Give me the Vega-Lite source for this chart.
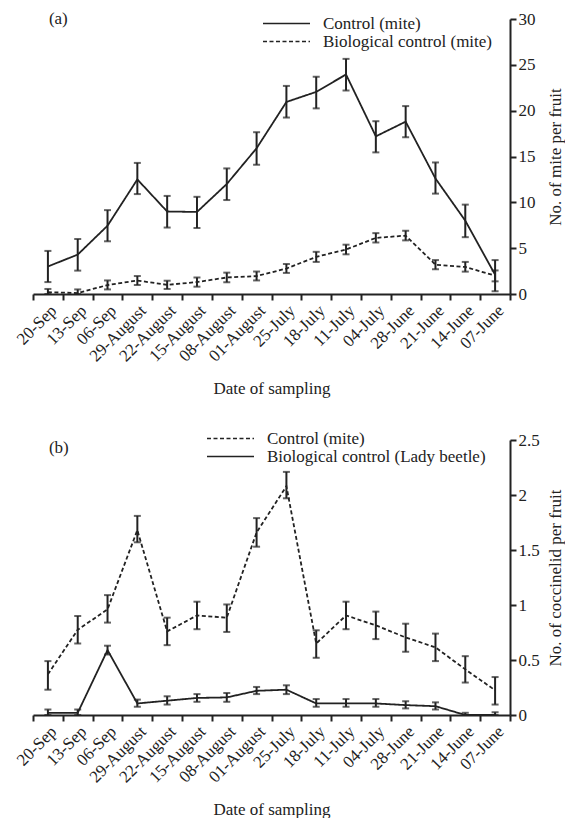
{
  "$schema": "https://vega.github.io/schema/vega-lite/v6.json",
  "background": "white",
  "padding": {"left": 13, "top": 10, "right": 1, "bottom": 0},
  "config": {
    "font": "Liberation Serif",
    "view": {"stroke": null},
    "axis": {
      "labelFont": "Liberation Serif", "titleFont": "Liberation Serif",
      "labelFontSize": 17, "titleFontSize": 17, "titleFontWeight": "normal",
      "labelColor": "#222", "titleColor": "#222",
      "domainColor": "#222", "tickColor": "#222",
      "domainWidth": 2, "tickWidth": 2, "tickSize": 6, "grid": false
    },
    "legend": {
      "labelFont": "Liberation Serif", "labelFontSize": 17, "labelColor": "#222", "labelLimit": 0,
      "symbolType": "M-4.7,0H4.7", "symbolSize": 100, "symbolStrokeWidth": 1.6,
      "symbolStrokeColor": "#222", "labelOffset": 28, "rowPadding": 0, "padding": 0
    }
  },
  "spacing": 33,
  "resolve": {
    "scale": {"x": "independent", "y": "independent", "strokeDash": "independent"},
    "legend": {"strokeDash": "independent"}
  },
  "vconcat": [
    {
      "width": 477,
      "height": 275,
      "data": {"values": [
        {"date": "20-Sep", "series": "Control (mite)", "v": 3.0, "lo": 1.3, "hi": 4.7},
        {"date": "13-Sep", "series": "Control (mite)", "v": 4.3, "lo": 2.55, "hi": 6.0},
        {"date": "06-Sep", "series": "Control (mite)", "v": 7.45, "lo": 5.75, "hi": 9.15},
        {"date": "29-August", "series": "Control (mite)", "v": 12.5, "lo": 10.9, "hi": 14.3},
        {"date": "22-August", "series": "Control (mite)", "v": 9.0, "lo": 7.25, "hi": 10.7},
        {"date": "15-August", "series": "Control (mite)", "v": 8.95, "lo": 7.2, "hi": 10.6},
        {"date": "08-August", "series": "Control (mite)", "v": 12.0, "lo": 10.25, "hi": 13.7},
        {"date": "01-August", "series": "Control (mite)", "v": 15.9, "lo": 14.1, "hi": 17.65},
        {"date": "25-July", "series": "Control (mite)", "v": 20.95, "lo": 19.25, "hi": 22.7},
        {"date": "18-July", "series": "Control (mite)", "v": 22.05, "lo": 20.25, "hi": 23.7},
        {"date": "11-July", "series": "Control (mite)", "v": 23.95, "lo": 22.2, "hi": 25.65},
        {"date": "04-July", "series": "Control (mite)", "v": 17.2, "lo": 15.45, "hi": 18.85},
        {"date": "28-June", "series": "Control (mite)", "v": 18.8, "lo": 17.1, "hi": 20.5},
        {"date": "21-June", "series": "Control (mite)", "v": 12.6, "lo": 10.95, "hi": 14.35},
        {"date": "14-June", "series": "Control (mite)", "v": 8.0, "lo": 6.2, "hi": 9.75},
        {"date": "07-June", "series": "Control (mite)", "v": 2.1, "lo": 0.3, "hi": 3.7},
        {"date": "20-Sep", "series": "Biological control (mite)", "v": 0.2, "lo": 0.0, "hi": 0.55},
        {"date": "13-Sep", "series": "Biological control (mite)", "v": 0.1, "lo": 0.0, "hi": 0.5},
        {"date": "06-Sep", "series": "Biological control (mite)", "v": 0.98, "lo": 0.5, "hi": 1.48},
        {"date": "29-August", "series": "Biological control (mite)", "v": 1.47, "lo": 0.98, "hi": 1.96},
        {"date": "22-August", "series": "Biological control (mite)", "v": 1.0, "lo": 0.55, "hi": 1.45},
        {"date": "15-August", "series": "Biological control (mite)", "v": 1.3, "lo": 0.8, "hi": 1.8},
        {"date": "08-August", "series": "Biological control (mite)", "v": 1.8, "lo": 1.28, "hi": 2.33},
        {"date": "01-August", "series": "Biological control (mite)", "v": 1.95, "lo": 1.48, "hi": 2.45},
        {"date": "25-July", "series": "Biological control (mite)", "v": 2.78, "lo": 2.3, "hi": 3.27},
        {"date": "18-July", "series": "Biological control (mite)", "v": 4.05, "lo": 3.5, "hi": 4.6},
        {"date": "11-July", "series": "Biological control (mite)", "v": 4.85, "lo": 4.33, "hi": 5.38},
        {"date": "04-July", "series": "Biological control (mite)", "v": 6.12, "lo": 5.62, "hi": 6.64},
        {"date": "28-June", "series": "Biological control (mite)", "v": 6.37, "lo": 5.85, "hi": 6.9},
        {"date": "21-June", "series": "Biological control (mite)", "v": 3.2, "lo": 2.7, "hi": 3.7},
        {"date": "14-June", "series": "Biological control (mite)", "v": 2.95, "lo": 2.44, "hi": 3.5},
        {"date": "07-June", "series": "Biological control (mite)", "v": 2.0, "lo": 1.38, "hi": 2.57}
      ]},
      "encoding": {
        "x": {
          "field": "date", "type": "nominal",
          "scale": {"type": "band", "paddingInner": 0, "paddingOuter": 0,
            "domain": ["20-Sep","13-Sep","06-Sep","29-August","22-August","15-August","08-August","01-August","25-July","18-July","11-July","04-July","28-June","21-June","14-June","07-June"]},
          "axis": {"title": "Date of sampling", "labelAngle": -45, "tickBand": "extent", "titlePadding": 16}
        }
      },
      "layer": [
        {
          "mark": {"type": "line", "color": "#222", "strokeWidth": 1.8},
          "encoding": {
            "y": {"field": "v", "type": "quantitative",
              "scale": {"domain": [0, 30], "nice": false},
              "axis": {"orient": "right", "values": [0,5,10,15,20,25,30], "title": "No. of mite per fruit", "titleAngle": 270, "titleBaseline": "top", "titlePadding": 12}},
            "strokeDash": {"field": "series", "type": "nominal",
              "scale": {"domain": ["Control (mite)", "Biological control (mite)"], "range": [[1, 0], [4, 2.5]]},
              "legend": {"title": null, "orient": "none", "legendX": 245, "legendY": -4}}
          }
        },
        {
          "mark": {"type": "rule", "color": "#222", "strokeWidth": 2},
          "encoding": {"y": {"field": "lo", "type": "quantitative"}, "y2": {"field": "hi"}}
        },
        {
          "mark": {"type": "tick", "color": "#222", "thickness": 2, "size": 7},
          "encoding": {"y": {"field": "lo", "type": "quantitative"}}
        },
        {
          "mark": {"type": "tick", "color": "#222", "thickness": 2, "size": 7},
          "encoding": {"y": {"field": "hi", "type": "quantitative"}}
        },
        {
          "data": {"values": [{"label": "(a)"}]},
          "mark": {"type": "text", "align": "left", "baseline": "middle", "dx": 1, "fontSize": 17, "font": "Liberation Serif", "color": "#222"},
          "encoding": {"x": {"datum": "20-Sep"}, "y": {"datum": 30}, "text": {"field": "label"}}
        }
      ]
    },
    {
      "width": 477,
      "height": 275,
      "data": {"values": [
        {"date": "20-Sep", "series": "Control (mite)", "v": 0.37, "lo": 0.23, "hi": 0.49},
        {"date": "13-Sep", "series": "Control (mite)", "v": 0.775, "lo": 0.65, "hi": 0.9},
        {"date": "06-Sep", "series": "Control (mite)", "v": 0.96, "lo": 0.84, "hi": 1.09},
        {"date": "29-August", "series": "Control (mite)", "v": 1.68, "lo": 1.57, "hi": 1.81},
        {"date": "22-August", "series": "Control (mite)", "v": 0.76, "lo": 0.635, "hi": 0.885},
        {"date": "15-August", "series": "Control (mite)", "v": 0.905, "lo": 0.78, "hi": 1.03},
        {"date": "08-August", "series": "Control (mite)", "v": 0.885, "lo": 0.755, "hi": 1.005},
        {"date": "01-August", "series": "Control (mite)", "v": 1.66, "lo": 1.53, "hi": 1.79},
        {"date": "25-July", "series": "Control (mite)", "v": 2.08, "lo": 1.97, "hi": 2.21},
        {"date": "18-July", "series": "Control (mite)", "v": 0.65, "lo": 0.52, "hi": 0.77},
        {"date": "11-July", "series": "Control (mite)", "v": 0.905, "lo": 0.78, "hi": 1.03},
        {"date": "04-July", "series": "Control (mite)", "v": 0.815, "lo": 0.69, "hi": 0.94},
        {"date": "28-June", "series": "Control (mite)", "v": 0.705, "lo": 0.575, "hi": 0.83},
        {"date": "21-June", "series": "Control (mite)", "v": 0.615, "lo": 0.49, "hi": 0.74},
        {"date": "14-June", "series": "Control (mite)", "v": 0.415, "lo": 0.295, "hi": 0.535},
        {"date": "07-June", "series": "Control (mite)", "v": 0.225, "lo": 0.095, "hi": 0.345},
        {"date": "20-Sep", "series": "Biological control (Lady beetle)", "v": 0.02, "lo": 0.0, "hi": 0.05},
        {"date": "13-Sep", "series": "Biological control (Lady beetle)", "v": 0.02, "lo": 0.0, "hi": 0.05},
        {"date": "06-Sep", "series": "Biological control (Lady beetle)", "v": 0.59, "lo": 0.55, "hi": 0.63},
        {"date": "29-August", "series": "Biological control (Lady beetle)", "v": 0.105, "lo": 0.075, "hi": 0.14},
        {"date": "22-August", "series": "Biological control (Lady beetle)", "v": 0.13, "lo": 0.095, "hi": 0.17},
        {"date": "15-August", "series": "Biological control (Lady beetle)", "v": 0.155, "lo": 0.12, "hi": 0.19},
        {"date": "08-August", "series": "Biological control (Lady beetle)", "v": 0.16, "lo": 0.12, "hi": 0.2},
        {"date": "01-August", "series": "Biological control (Lady beetle)", "v": 0.22, "lo": 0.19, "hi": 0.255},
        {"date": "25-July", "series": "Biological control (Lady beetle)", "v": 0.23, "lo": 0.19, "hi": 0.27},
        {"date": "18-July", "series": "Biological control (Lady beetle)", "v": 0.105, "lo": 0.075, "hi": 0.145},
        {"date": "11-July", "series": "Biological control (Lady beetle)", "v": 0.105, "lo": 0.075, "hi": 0.145},
        {"date": "04-July", "series": "Biological control (Lady beetle)", "v": 0.105, "lo": 0.075, "hi": 0.145},
        {"date": "28-June", "series": "Biological control (Lady beetle)", "v": 0.09, "lo": 0.06, "hi": 0.125},
        {"date": "21-June", "series": "Biological control (Lady beetle)", "v": 0.08, "lo": 0.05, "hi": 0.115},
        {"date": "14-June", "series": "Biological control (Lady beetle)", "v": 0.0, "lo": 0.0, "hi": 0.02},
        {"date": "07-June", "series": "Biological control (Lady beetle)", "v": 0.0, "lo": 0.0, "hi": 0.025}
      ]},
      "encoding": {
        "x": {
          "field": "date", "type": "nominal",
          "scale": {"type": "band", "paddingInner": 0, "paddingOuter": 0,
            "domain": ["20-Sep","13-Sep","06-Sep","29-August","22-August","15-August","08-August","01-August","25-July","18-July","11-July","04-July","28-June","21-June","14-June","07-June"]},
          "axis": {"title": "Date of sampling", "labelAngle": -45, "tickBand": "extent", "titlePadding": 16}
        }
      },
      "layer": [
        {
          "mark": {"type": "line", "color": "#222", "strokeWidth": 1.8},
          "encoding": {
            "y": {"field": "v", "type": "quantitative",
              "scale": {"domain": [0, 2.5], "nice": false},
              "axis": {"orient": "right", "values": [0,0.5,1,1.5,2,2.5], "format": "~g", "title": "No. of coccinelid per fruit", "titleAngle": 270, "titleBaseline": "top", "titlePadding": 8}},
            "strokeDash": {"field": "series", "type": "nominal",
              "scale": {"domain": ["Control (mite)", "Biological control (Lady beetle)"], "range": [[4, 2.5], [1, 0]]},
              "legend": {"title": null, "orient": "none", "legendX": 189, "legendY": -10}}
          }
        },
        {
          "mark": {"type": "rule", "color": "#222", "strokeWidth": 2},
          "encoding": {"y": {"field": "lo", "type": "quantitative"}, "y2": {"field": "hi"}}
        },
        {
          "mark": {"type": "tick", "color": "#222", "thickness": 2, "size": 7},
          "encoding": {"y": {"field": "lo", "type": "quantitative"}}
        },
        {
          "mark": {"type": "tick", "color": "#222", "thickness": 2, "size": 7},
          "encoding": {"y": {"field": "hi", "type": "quantitative"}}
        },
        {
          "data": {"values": [{"label": "(b)"}]},
          "mark": {"type": "text", "align": "left", "baseline": "middle", "dx": 1, "dy": 8, "fontSize": 17, "font": "Liberation Serif", "color": "#222"},
          "encoding": {"x": {"datum": "20-Sep"}, "y": {"datum": 2.5}, "text": {"field": "label"}}
        }
      ]
    }
  ]
}
